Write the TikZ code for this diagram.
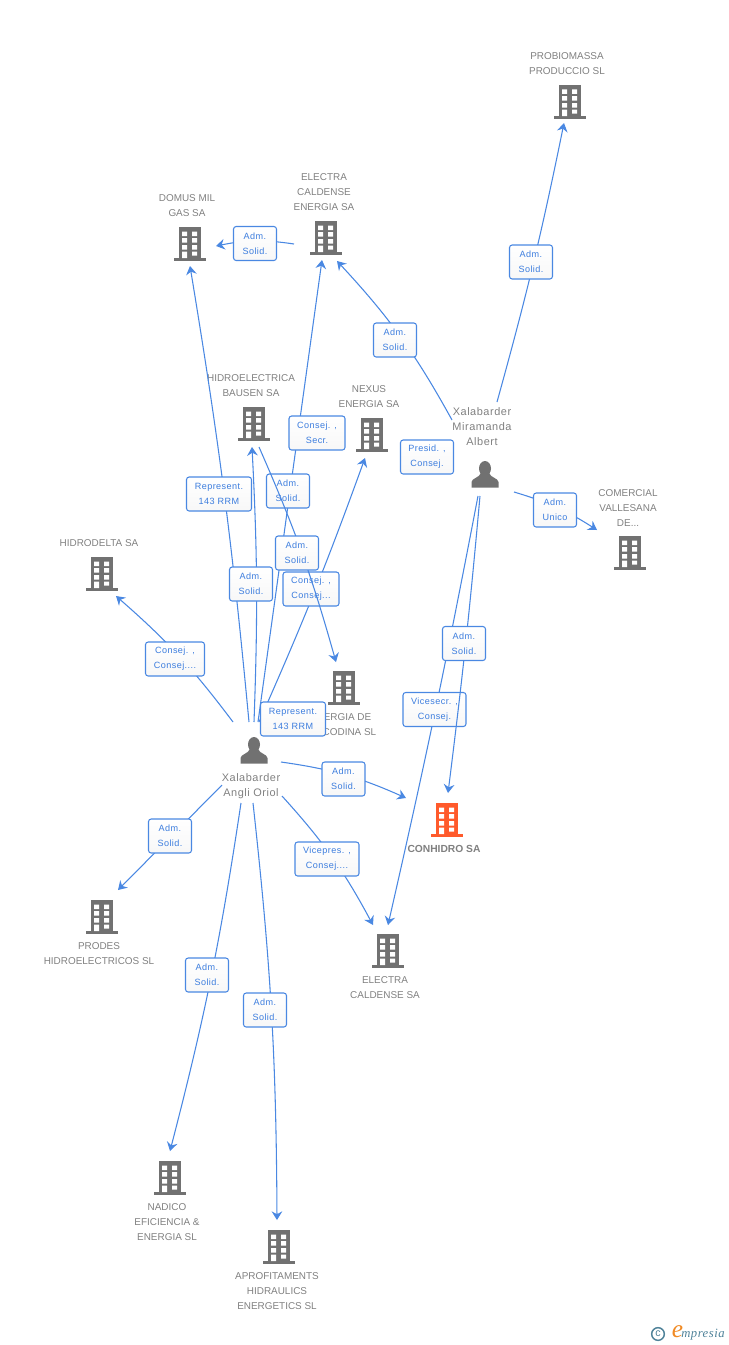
\documentclass[tikz,border=0pt]{standalone}
\usepackage{fontspec}
\setmainfont{Liberation Sans}
\newfontfamily\tagfont[LetterSpace=5]{Liberation Sans}
\newfontfamily\logofont[LetterSpace=4]{Liberation Serif}
\usetikzlibrary{arrows.meta}

\definecolor{iconGrey}{HTML}{717171}
\definecolor{iconOrange}{HTML}{FF5A2B}
\definecolor{textGrey}{HTML}{808080}
\definecolor{linkBlue}{HTML}{4A88E2}
\definecolor{tagBlue}{HTML}{3C7DDE}
\definecolor{logoBlue}{HTML}{4F8299}
\definecolor{logoOrange}{HTML}{F08A24}

\tikzset{
    icon/.style={inner sep=0pt, minimum size=20pt},
    link/.style={draw=linkBlue, line width=0.8pt, -{Stealth[length=6.5pt, width=8pt, inset=2.2pt]}},
    firmname/.style={text=textGrey, font=\fontsize{7.45}{11.25}\selectfont, align=center, inner sep=0pt},
    ownername/.style={firmname, font=\tagfont\fontsize{8.2}{11.25}\selectfont},
    tagbox/.style={draw=linkBlue, line width=0.8pt, rounded corners=2pt, top color=white, bottom color=black!3,
        text=tagBlue, font=\tagfont\fontsize{6.8}{11.25}\selectfont, align=center, inner sep=0pt,
        minimum width=#1*0.75pt, minimum height=25.5pt},
    tagbox/.default=43
}

\newcommand{\bldg}[3][iconGrey]{%
    \node[icon] (#2) at (#3) {};
    \begin{scope}[shift={(#3)}]
        \fill[#1] (-11,-17) rectangle (11,15);
        \fill[#1] (-16,14) rectangle (16,17);
        \fill[white] (-8,-12.5) rectangle (-3,-8) (2,-12.5) rectangle (7,-8);
        \fill[white] (-8,-6) rectangle (-3,-1.5) (2,-6) rectangle (7,-1.5);
        \fill[white] (-8,1) rectangle (-3,5.5) (2,1) rectangle (7,5.5);
        \fill[white] (-8,7.5) rectangle (-3,14) (2,7.5) rectangle (7,11.5);
    \end{scope}
}

\newcommand{\person}[2]{%
    \node[icon] (#1) at (#2) {};
    \begin{scope}[shift={(#2)}]
        \fill[iconGrey] (0,-6.5) ellipse [x radius=6, y radius=7.5];
        \fill[iconGrey] (-13.5,12.5) -- (-13.5,7) .. controls (-13,3) and (-6,3) .. (-4,-2)
            -- (4,-2) .. controls (6,3) and (13,3) .. (13.5,7) -- (13.5,12.5) -- cycle;
    \end{scope}
}

\begin{document}
\begin{tikzpicture}[x=0.75pt, y=-0.75pt]

    \useasboundingbox (0,0) rectangle (728,1345);

    \bldg{probio}{570,102}
    \bldg{electraen}{326,238}
    \bldg{domus}{190,244}
    \bldg{hidro}{254,424}
    \bldg{nexus}{372,435}
    \bldg{comercial}{630,553}
    \bldg{hidrodelta}{102,574}
    \bldg{codina}{344,688}
    \bldg[iconOrange]{conhidro}{447,820}
    \bldg{prodes}{102,917}
    \bldg{electrasa}{388,951}
    \bldg{nadico}{170,1178}
    \bldg{aprof}{279,1247}
    \person{oriol}{254,751}
    \person{albert}{485,475}

    \node[firmname] (probioname) at (567,64) {PROBIOMASSA\\PRODUCCIO SL};
    \node[firmname] (electraenname) at (324,192.5) {ELECTRA\\CALDENSE\\ENERGIA SA};
    \node[firmname] (domusname) at (187,206) {DOMUS MIL\\GAS SA};
    \node[firmname] (hidroname) at (251,386) {HIDROELECTRICA\\BAUSEN SA};
    \node[firmname] (nexusname) at (369,397) {NEXUS\\ENERGIA SA};
    \node[ownername] (albertname) at (482,427) {Xalabarder\\Miramanda\\Albert};
    \node[firmname] (comercialname) at (628,508) {COMERCIAL\\VALLESANA\\DE...};
    \node[firmname] (hidrodeltaname) at (99,543.5) {HIDRODELTA SA};
    \node[firmname, align=right, anchor=east] (codinaname) at (376.5,725) {ENERGIA DE\hspace*{3.75pt}\\CODINA SL};
    \node[ownername] (oriolname) at (251,786) {Xalabarder\\Angli Oriol};
    \node[firmname, font=\fontsize{7.7}{11.25}\selectfont\bfseries] (conhidroname) at (444,849) {CONHIDRO SA};
    \node[firmname] (prodesname) at (99,954) {PRODES\\HIDROELECTRICOS SL};
    \node[firmname] (electrasaname) at (385,988) {ELECTRA\\CALDENSE SA};
    \node[firmname] (nadiconame) at (167,1222.5) {NADICO\\EFICIENCIA \&\\ENERGIA SL};
    \node[firmname] (aprofname) at (277,1291.5) {APROFITAMENTS\\HIDRAULICS\\ENERGETICS SL};

    \draw[link] ([shift={(-21,-29)}]oriol.center) to[bend right=6] ([shift={(14,22)}]hidrodelta.center);
    \node[tagbox=59] (tagdelta) at (175,659) {Consej. ,\\Consej....};

    \draw[link] ([shift={(-5,-29)}]oriol.center) to[bend right=2] ([shift={(0,22)}]domus.center);
    \node[tagbox=65] (tagdomus) at (219,494) {Represent.\\143 RRM};

    \draw[link] ([shift={(0,-29)}]oriol.center) to[bend right=2.5] ([shift={(-2,23)}]hidro.center);
    \node[tagbox] (taghidro) at (251,584) {Adm.\\Solid.};

    \draw[link] ([shift={(4,-29)}]oriol.center) -- ([shift={(-4,22)}]electraen.center);
    \node[tagbox] (tagelectra) at (288,491) {Adm.\\Solid.};
    \node[tagbox=56] (tagsecr) at (317,433) {Consej. ,\\Secr.};

    \draw[link] ([shift={(5,-29)}]oriol.center) to[bend right=2] ([shift={(-7,23)}]nexus.center);
    \node[tagbox=56] (tagnexus) at (311,589) {Consej. ,\\Consej...};

    \draw[link] ([shift={(5,23)}]hidro.center) to[bend left=4] ([shift={(-8,-26)}]codina.center);
    \node[tagbox] (tagcodina) at (297,553) {Adm.\\Solid.};
    \node[tagbox=65] (tagrep) at (293,719) {Represent.\\143 RRM};

    \draw[link] ([shift={(27,11)}]oriol.center) to[bend left=8] ([shift={(-41,-22)}]conhidro.center);
    \node[tagbox] (tagconh) at (343.5,779) {Adm.\\Solid.};

    \draw[link] ([shift={(28,45)}]oriol.center) to[bend left=7] ([shift={(-15,-26)}]electrasa.center);
    \node[tagbox=64] (tagvice) at (327,859) {Vicepres. ,\\Consej....};

    \draw[link] ([shift={(-32,34)}]oriol.center) -- ([shift={(16,-27)}]prodes.center);
    \node[tagbox] (tagprodes) at (170,836) {Adm.\\Solid.};

    \draw[link] ([shift={(-13,52)}]oriol.center) to[bend left=3] ([shift={(0,-27)}]nadico.center);
    \node[tagbox] (tagnadico) at (207,975) {Adm.\\Solid.};

    \draw[link] ([shift={(-1,52)}]oriol.center) to[bend left=3] ([shift={(-2,-27)}]aprof.center);
    \node[tagbox] (tagaprof) at (265,1010) {Adm.\\Solid.};

    \draw[link] ([shift={(12,-73)}]albert.center) to[bend right=2] ([shift={(-6,21)}]probio.center);
    \node[tagbox] (tagprobio) at (531,262) {Adm.\\Solid.};

    \draw[link] ([shift={(-33,-55)}]albert.center) to[bend right=7] ([shift={(11,23)}]electraen.center);
    \node[tagbox] (tagalbert) at (395,340) {Adm.\\Solid.};

    \node[tagbox=53] (tagpresid) at (427,457) {Presid. ,\\Consej.};

    \draw[link] ([shift={(29,17)}]albert.center) to[bend left=8] ([shift={(-33,-23)}]comercial.center);
    \node[tagbox] (tagunico) at (555,510) {Adm.\\Unico};

    \draw[link] ([shift={(-7,21)}]albert.center) to[bend left=1] ([shift={(0,-26)}]electrasa.center);
    \node[tagbox=63] (tagsecre) at (434.5,709.5) {Vicesecr. ,\\Consej.};

    \draw[link] ([shift={(-5,21)}]albert.center) to[bend left=1] ([shift={(1,-27)}]conhidro.center);
    \node[tagbox] (tagsolid) at (464,643.5) {Adm.\\Solid.};

    \draw[link] ([shift={(-32,6)}]electraen.center) to[bend right=10] ([shift={(26,2)}]domus.center);
    \node[tagbox] (tagmil) at (255,243.5) {Adm.\\Solid.};

    \node[circle, draw=logoBlue, line width=1.1pt, text=logoBlue, inner sep=0pt, minimum size=9.5pt,
        font=\fontsize{8}{8}\selectfont] (logoc) at (658,1334) {c};
    \node[text=logoOrange, font=\logofont\itshape\fontsize{19}{19}\selectfont, inner sep=0pt] (logoe) at (677.5,1332) {e};
    \node[text=logoBlue, font=\logofont\itshape\fontsize{9.5}{10}\selectfont, inner sep=0pt, anchor=west] (logotext) at (681,1335) {mpresia};

\end{tikzpicture}
\end{document}
